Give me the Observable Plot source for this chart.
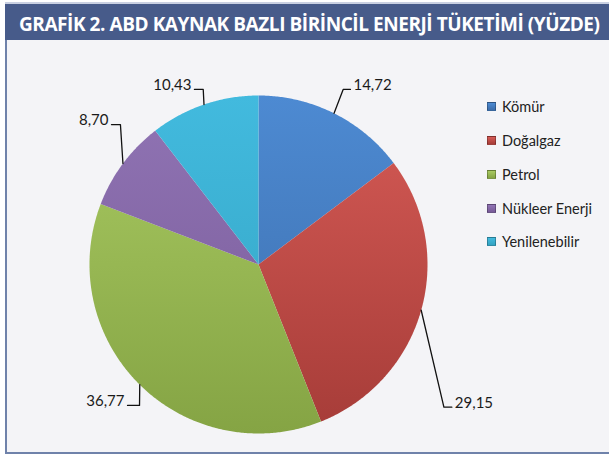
<!DOCTYPE html>
<html><head><meta charset="utf-8">
<script src="https://cdn.jsdelivr.net/npm/d3@7"></script>
<script src="https://cdn.jsdelivr.net/npm/@observablehq/plot@0.6"></script>
<style>
body{margin:0;background:#fff;}
#wrap{position:relative;width:609px;height:456px;overflow:hidden;font-family:Lato,"Open Sans",sans-serif;}
#topline{position:absolute;left:5px;top:2px;width:604px;height:2px;background:#c9d0e2;}
#header{position:absolute;left:5px;top:4px;width:604px;height:36px;background:#475b8a;}
#headsvg{position:absolute;left:0;top:0;}
#box{position:absolute;left:5px;top:40px;width:620px;height:412px;background:#f4f4f7;border-left:2px solid #6f82aa;border-bottom:2px solid #6f82aa;}
#chart{position:absolute;left:0;top:0;}
#legend{position:absolute;left:487px;top:90px;font-size:14.5px;color:#222;}
.item{height:33.75px;display:flex;align-items:center;white-space:nowrap;}
.sw{width:7px;height:7px;margin-right:6px;border:1px solid rgba(0,0,0,0.25);}
</style>
</head><body>
<div id="wrap">
  <div id="topline"></div>
  <div id="header"></div>
  <div id="box"></div>
  <svg id="headsvg" width="609" height="44"><text id="title" x="19" y="30.5" fill="#fff" font-family="'Open Sans'" font-weight="700" font-size="19"></text></svg>
  <div id="chart"></div>
  <div id="legend"></div>
</div>
<script>
// ---- data ----
const titleText = "GRAFİK 2. ABD KAYNAK BAZLI BİRİNCİL ENERJİ TÜKETİMİ (YÜZDE)";
const categories = ["Kömür", "Doğalgaz", "Petrol", "Nükleer Enerji", "Yenilenebilir"];
const values = [14.72, 29.15, 36.77, 8.70, 10.43];
const valueLabels = ["14,72", "29,15", "36,77", "8,70", "10,43"];

// ---- styles ----
const colorTop = ["#4d8ad2", "#d65b56", "#a9ca62", "#9074b4", "#42bade"];
const colorBottom = ["#3c6dab", "#a63c38", "#85a444", "#785a98", "#33a3c2"];
// ---- label layout (pie-radius units): leader elbow and line end ----
const elbowX = [0.501, 1.097, -0.704, -0.817, -0.327];
const elbowY = [1.036, -0.844, -0.834, 0.828, 1.036];
const endX = [0.544, 1.144, -0.775, -0.870, -0.379];

const titleEl = document.getElementById("title");
titleEl.textContent = titleText;
const natural = titleEl.getComputedTextLength();
const targetW = 581;
titleEl.setAttribute("letter-spacing", ((targetW - natural) / (titleText.length - 1)).toFixed(3));

const W = 609, H = 456, CX = 258, CY = 264, R = 169;
const total = d3.sum(values);
let acc = 0;
const slices = values.map((v, i) => {
  const a0 = acc / total * 2 * Math.PI; acc += v;
  const a1 = acc / total * 2 * Math.PI;
  return {i, a0, a1, mid: (a0 + a1) / 2};
});
function arcPts(a0, a1, withCenter) {
  const pts = withCenter ? [{x: 0, y: 0}] : [];
  const n = Math.max(2, Math.ceil((a1 - a0) / (Math.PI / 360)));
  for (let k = 0; k <= n; k++) {
    const a = a0 + (a1 - a0) * k / n;
    pts.push({x: Math.sin(a), y: Math.cos(a)});
  }
  if (withCenter) pts.push({x: 0, y: 0});
  return pts;
}
const leaders = slices.flatMap(s => [
  {k: s.i, x: Math.sin(s.mid), y: Math.cos(s.mid)},
  {k: s.i, x: elbowX[s.i], y: elbowY[s.i]},
  {k: s.i, x: endX[s.i], y: elbowY[s.i]}
]);
const labelData = slices.map(s => ({x: endX[s.i], y: elbowY[s.i], t: valueLabels[s.i], right: endX[s.i] > elbowX[s.i]}));

const marks = [
  Plot.line(arcPts(0, 2 * Math.PI, true), {x: "x", y: "y", fill: "#000", fillOpacity: 0.22, stroke: "none", dy: 3, ariaLabel: "pie-shadow"}),
  ...slices.map(s => Plot.line(arcPts(s.a0, s.a1, true), {x: "x", y: "y", fill: `url(#grad${s.i})`, stroke: "none"})),
  Plot.line(leaders, {x: "x", y: "y", z: "k", stroke: "#111", strokeWidth: 1.3}),
  Plot.text(labelData.filter(d => d.right), {x: "x", y: "y", text: "t", textAnchor: "start", dx: 3, dy: -4, fontSize: 15, fill: "#1a1a1a", fontFamily: "Lato"}),
  Plot.text(labelData.filter(d => !d.right), {x: "x", y: "y", text: "t", textAnchor: "end", dx: -3, dy: -4, fontSize: 15, fill: "#1a1a1a", fontFamily: "Lato"})
];

const chart = Plot.plot({
  width: W, height: H, margin: 0,
  x: {domain: [-CX / R, (W - CX) / R], range: [0, W], axis: null},
  y: {domain: [-(H - CY) / R, CY / R], range: [H, 0], axis: null},
  style: {background: "transparent", overflow: "visible"},
  marks
});
const yTop = chart.scale("y").apply(1), yBot = chart.scale("y").apply(-1);
const defs = document.createElementNS("http://www.w3.org/2000/svg", "defs");
defs.innerHTML = categories.map((c, i) =>
  `<linearGradient id="grad${i}" gradientUnits="userSpaceOnUse" x1="0" y1="${yTop}" x2="0" y2="${yBot}">
     <stop offset="0" stop-color="${colorTop[i]}"/><stop offset="1" stop-color="${colorBottom[i]}"/>
   </linearGradient>`).join("");
chart.insertBefore(defs, chart.firstChild);
chart.querySelectorAll('g[aria-label="pie-shadow"] path').forEach(p => p.style.filter = "blur(3px)");
document.getElementById("chart").appendChild(chart);

const legend = document.getElementById("legend");
categories.forEach((c, i) => {
  const row = document.createElement("div");
  row.className = "item";
  const sw = document.createElement("span");
  sw.className = "sw";
  sw.style.background = `linear-gradient(${colorTop[i]}, ${colorBottom[i]})`;
  row.appendChild(sw);
  row.appendChild(document.createTextNode(c));
  legend.appendChild(row);
});
</script>
</body></html>
